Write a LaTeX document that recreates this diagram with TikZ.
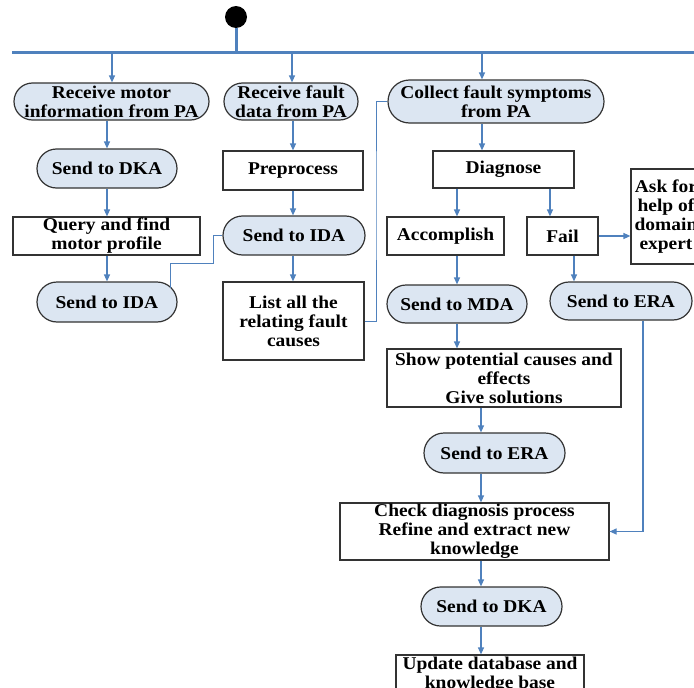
\documentclass[tikz,border=0pt]{standalone}
\usepackage{fontspec}
\setmainfont{Liberation Serif}[FakeStretch=1.08]
\usepackage{tikz}
\usetikzlibrary{arrows.meta,positioning,calc,shapes.misc}
\definecolor{FlowBlue}{HTML}{4F81BD}
\definecolor{ActFill}{HTML}{DCE6F2}
\definecolor{BoxEdge}{HTML}{333333}

\begin{document}
\begin{tikzpicture}[x=1pt, y=-1pt,
  act/.style={rounded rectangle, draw=BoxEdge, fill=ActFill, line width=1.2pt,
    inner sep=0pt, align=center, font=\bfseries\fontsize{18}{19}\selectfont},
  task/.style={rectangle, draw=BoxEdge, fill=white, line width=1.2pt,
    inner sep=0pt, align=center, font=\bfseries\fontsize{18}{19}\selectfont},
  flow/.style={-{Triangle[length=7pt,width=6pt]}, FlowBlue, line width=1.2pt},
  link/.style={FlowBlue, line width=1pt},
  bar/.style={FlowBlue, line width=3pt}]
  \useasboundingbox (0,0) rectangle (694,688);
  \clip (0,0) rectangle (694,688);

  \node[circle, fill=black, inner sep=0pt, minimum size=22pt] (start) at (236,17) {};
  \coordinate (barL) at (12,52);
  \coordinate (barR) at (694,52);
  \coordinate (barA) at (112,52);
  \coordinate (barB) at (292,52);
  \coordinate (barC) at (482,52);
  \coordinate (spine) at (481,400);

  \node[act, minimum width=195pt, minimum height=37pt] (recvmotor) at (111.5,101.5) {Receive motor\\information from PA};
  \node[act, minimum width=134pt, minimum height=37pt] (recvfault) at (291,101.5) {Receive fault\\data from PA};
  \node[act, minimum width=216pt, minimum height=43pt] (collect) at (496,101.5) {Collect fault symptoms\\from PA};

  \node[act, minimum width=140pt, minimum height=39pt] (dkaA) at (107,168.5) {Send to DKA};
  \node[task, minimum width=187pt, minimum height=38pt] (query) at (106.5,236) {Query and find\\motor profile};
  \node[act, minimum width=140pt, minimum height=40pt] (idaA) at (107,302) {Send to IDA};

  \node[task, minimum width=140pt, minimum height=39pt] (prep) at (293,170.5) {Preprocess};
  \node[act, minimum width=142pt, minimum height=39pt] (idaB) at (294,235.5) {Send to IDA};
  \node[task, minimum width=141pt, minimum height=78pt] (causes) at (293.5,321) {List all the\\relating fault\\causes};

  \node[task, minimum width=141pt, minimum height=37pt] (diag) at (503.5,169.5) {Diagnose};
  \node[task, minimum width=117pt, minimum height=38pt] (accomp) at (445.5,236) {Accomplish};
  \node[task, minimum width=71pt, minimum height=38pt] (fail) at (562.5,236) {Fail};
  \node[task, minimum width=70pt, minimum height=95pt] (expert) at (666,216.5) {Ask for\\help of\\domain\\expert};
  \node[act, minimum width=140pt, minimum height=38pt] (mda) at (457,304) {Send to MDA};
  \node[act, minimum width=142pt, minimum height=38pt] (eraA) at (621,301) {Send to ERA};
  \node[task, minimum width=234pt, minimum height=58pt] (show) at (504,378) {Show potential causes and\\effects\\Give solutions};
  \node[act, minimum width=141pt, minimum height=40pt] (eraB) at (494.5,453) {Send to ERA};
  \node[task, minimum width=269pt, minimum height=57pt] (check) at (474.5,531.5) {Check diagnosis process\\Refine and extract new\\knowledge};
  \node[act, minimum width=141pt, minimum height=39pt] (dkaB) at (491.5,606.5) {Send to DKA};
  \node[task, minimum width=188pt, minimum height=40pt] (update) at (490,675) {Update database and\\knowledge base};

  \draw[bar] (start) -- (start |- barL);
  \draw[bar] (barL) -- (barR);
  \draw[flow] (barA) -- (barA |- recvmotor.north);
  \draw[flow] (barB) -- (barB |- recvfault.north);
  \draw[flow] (barC) -- (barC |- collect.north);

  \draw[flow] (dkaA.north |- recvmotor.south) -- (dkaA.north);
  \draw[flow] (dkaA.south) -- (dkaA.south |- query.north);
  \draw[flow] (idaA.north |- query.south) -- (idaA.north);

  \draw[flow] (prep.north |- recvfault.south) -- (prep.north);
  \draw[flow] (prep.south) -- (prep.south |- idaB.north);
  \draw[flow] (prep.south |- idaB.south) -- (prep.south |- causes.north);
  \draw[link] ($(idaA.east)+(-7,-14)$) |- (213,263) |- (idaB.west);
  \draw[link] (causes.east) -| (376,200) |- (collect.west);

  \draw[flow] (barC |- collect.south) -- (barC |- diag.north);
  \draw[flow] (mda.north |- diag.south) -- (mda.north |- accomp.north);
  \draw[flow] ([xshift=-12.5pt]fail.north |- diag.south) -- ([xshift=-12.5pt]fail.north);
  \draw[flow] (fail.east) -- (fail.east -| expert.west);
  \draw[flow] (mda.north |- accomp.south) -- (mda.north);
  \draw[flow] ([xshift=11.5pt]fail.south) -- ([xshift=11.5pt]fail.south |- eraA.north);
  \draw[flow] ([xshift=22pt]eraA.south) |- (check.east);

  \draw[flow] (mda.south) -- (mda.south |- show.north);
  \draw[flow] (spine |- show.south) -- (spine |- eraB.north);
  \draw[flow] (spine |- eraB.south) -- (spine |- check.north);
  \draw[flow] (spine |- check.south) -- (spine |- dkaB.north);
  \draw[flow] (spine |- dkaB.south) -- (spine |- update.north);
\end{tikzpicture}
\end{document}
